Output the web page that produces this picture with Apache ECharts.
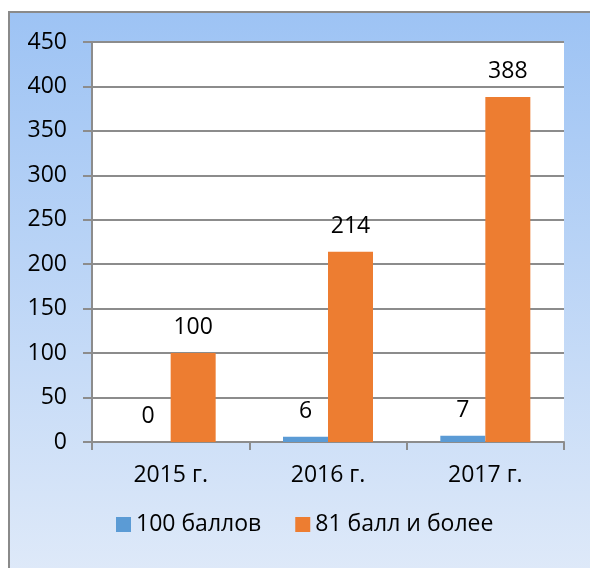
<!DOCTYPE html>
<html><head><meta charset="utf-8">
<script src="https://cdn.jsdelivr.net/npm/echarts@6/dist/echarts.min.js"></script>
<style>html,body{margin:0;padding:0;background:#fff}#c{width:590px;height:568px}</style>
</head><body><div id="c"></div>
<script>
const categories = ['2015 г.', '2016 г.', '2017 г.'];
const seriesNames = ['100 баллов', '81 балл и более'];
const values100 = [0, 6, 7];
const values81 = [100, 214, 388];
const yMin = 0, yMax = 450, yStep = 50;

const FONT = '"Open Sans", "Noto Sans", sans-serif';
const FS = 23;
const chart = echarts.init(document.getElementById('c'), null, {renderer: 'canvas'});
const labelStyle = {show: true, position: 'top', distance: 14, color: '#000', fontSize: FS, fontFamily: FONT};
chart.setOption({
  animation: false,
  graphic: [{
    type: 'rect', z: -10, silent: true,
    shape: {x: 9, y: 12, width: 620, height: 600},
    style: {
      fill: new echarts.graphic.LinearGradient(0, 0, 0, 1, [
        {offset: 0, color: '#9dc3f4'}, {offset: 1, color: '#e3ecf9'}
      ]),
      stroke: '#8a8a8a', lineWidth: 2
    }
  }],
  grid: {left: 92, right: 26, top: 42, bottom: 126, show: true, backgroundColor: '#fff', borderWidth: 0, containLabel: false},
  legend: {
    bottom: 27, left: 111, itemWidth: 15, itemHeight: 15, itemGap: 34,
    icon: 'rect',
    textStyle: {fontSize: FS, color: '#000', fontFamily: FONT},
    data: seriesNames
  },
  xAxis: {
    type: 'category', data: categories,
    axisLine: {show: true, lineStyle: {color: '#8c8c8c', width: 2}},
    axisTick: {show: true, length: 8, lineStyle: {color: '#8c8c8c', width: 2}},
    axisLabel: {color: '#000', fontSize: FS, fontFamily: FONT, margin: 22}
  },
  yAxis: {
    type: 'value', min: yMin, max: yMax, interval: yStep,
    axisLine: {show: true, lineStyle: {color: '#8c8c8c', width: 2}},
    axisTick: {show: true, length: 9, lineStyle: {color: '#8c8c8c', width: 2}},
    splitLine: {show: true, lineStyle: {color: '#8c8c8c', width: 2}},
    axisLabel: {color: '#000', fontSize: FS, fontFamily: FONT, margin: 25}
  },
  series: [
    {name: seriesNames[0], type: 'bar', data: values100, barWidth: 45, barGap: '0%',
     itemStyle: {color: '#5b9bd5'}, label: labelStyle},
    {name: seriesNames[1], type: 'bar', data: values81, barWidth: 45, barGap: '0%',
     itemStyle: {color: '#ed7d31'}, label: labelStyle}
  ]
});
</script></body></html>
